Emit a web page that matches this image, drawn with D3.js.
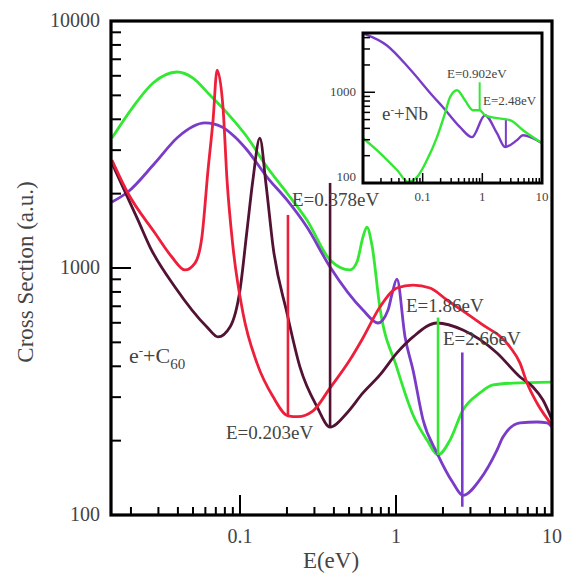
<!DOCTYPE html>
<html>
<head>
<meta charset="utf-8">
<script src="https://cdn.jsdelivr.net/npm/d3@7"></script>
<style>
  body { margin: 0; background: #fff; }
  text { font-family: "Liberation Serif", "DejaVu Serif", serif; fill: #444; }
</style>
</head>
<body>
<div id="chart"></div>
<script>
// ---- main panel data: e- + C60, [E (eV), cross section (a.u.)]
const greenC60 = [[0.0151,3357],[0.0206,4484],[0.0277,5610],[0.0395,6216],[0.05,5875],[0.0642,5012],
  [0.0826,4246],[0.111,3392],[0.149,2564],[0.2,2012],[0.2685,1563],[0.378,1077],[0.507,982],[0.562,1057],
  [0.614,1334],[0.651,1465],[0.701,1239],[0.789,689],[1.014,394],[1.286,254],[1.58,201],[1.86,175],
  [2.22,201],[2.687,266],[3.45,312],[4.19,336],[5.63,342],[10,345]];
const redC60 = [[0.0151,2735],[0.0191,2012],[0.0285,1386],[0.0366,1108],[0.0444,982],[0.0515,1047],
  [0.057,1335],[0.0624,2495],[0.0672,3972],[0.0713,6330],[0.0778,4484],[0.0826,2270],[0.0902,1216],
  [0.1045,658],[0.1285,412],[0.163,301],[0.203,252],[0.235,250],[0.294,264],[0.378,327],[0.507,425],
  [0.614,521],[0.789,695],[1.014,830],[1.286,853],[1.653,830],[2.12,742],[3.45,599],[5.38,479],
  [6.24,412],[6.92,342],[8.01,284],[10,231]];
const maroonC60 = [[0.0151,2660],[0.0222,1563],[0.0265,1216],[0.0383,838],[0.0614,577],[0.0723,526],
  [0.0863,577],[0.1,815],[0.111,1425],[0.121,2270],[0.134,3357],[0.147,2168],[0.163,1216],[0.2,658],
  [0.2425,397],[0.312,274],[0.378,227],[0.485,259],[0.614,312],[0.789,369],[1.014,453],[1.286,526],
  [1.833,599],[2.687,561],[4.44,453],[6.24,362],[7.55,330],[8.75,292],[10,243]];
const purpleC60 = [[0.0151,1849],[0.0191,2031],[0.0285,2660],[0.0401,3392],[0.0597,3865],[0.0767,3726],
  [0.0929,3392],[0.111,3004],[0.149,2335],[0.2,1885],[0.2685,1465],[0.378,1009],[0.614,676],[0.767,599],
  [0.889,676],[0.94,778],[1.014,902],[1.143,526],[1.286,386],[1.49,243],[1.833,178],[2.318,135],
  [2.687,120],[3.45,139],[4.44,183],[4.85,207],[6.24,236],[8.01,238],[9.29,236],[10,227]];

// resonance markers in main panel
const markE   = [0.203, 0.378, 1.86, 2.66];
const markTop = [1640, 2210, 630, 455];
const markBot = [252, 227, 175, 108];
const markLabels = ["E=0.203eV", "E=0.378eV", "E=1.86eV", "E=2.66eV"];

// ---- inset data: e- + Nb
const greenNb = [[0.01,312],[0.0193,214],[0.0372,139],[0.0568,103],[0.0803,116],[0.118,179],[0.174,320],
  [0.237,587],[0.287,881],[0.376,1052],[0.512,817],[0.697,634],[0.902,634],[1.108,558],[1.76,518],
  [2.91,492],[4.8,382],[10,275]];
const purpleNb = [[0.01,4450],[0.0252,3281],[0.0614,1791],[0.149,904],[0.219,684],[0.423,413],[0.671,320],
  [1.108,558],[1.76,354],[2.4,249],[3.81,297],[4.8,336],[10,275]];
const insetMarkE   = [0.902, 2.48];
const insetMarkTop = [1289, 492];
const insetMarkBot = [634, 249];
const insetLabels  = ["E=0.902eV", "E=2.48eV"];

const colGreen = "#33e833", colRed = "#ee1f3a", colPurple = "#7a3cc8", colMaroon = "#521234";

const W = 568, H = 574;
const svg = d3.select("#chart").append("svg").attr("width", W).attr("height", H);

// main scales
const x = d3.scaleLog().domain([0.0149, 10]).range([111, 552]);
const y = d3.scaleLog().domain([100, 10000]).range([515, 21]);

svg.append("clipPath").attr("id", "clipMain")
  .append("rect").attr("x", 111).attr("y", 21).attr("width", 441).attr("height", 494);

const line = d3.line().x(d => x(d[0])).y(d => y(d[1])).curve(d3.curveMonotoneX);
const gMain = svg.append("g").attr("clip-path", "url(#clipMain)");

[[greenC60, colGreen], [purpleC60, colPurple], [maroonC60, colMaroon], [redC60, colRed]].forEach(([d, c]) => {
  gMain.append("path").attr("d", line(d)).attr("fill", "none")
    .attr("stroke", c).attr("stroke-width", 2.8);
});

const markCols = [colRed, colMaroon, colGreen, colPurple];
gMain.selectAll("line.mark").data(markE).enter().append("line")
  .attr("x1", d => x(d)).attr("x2", d => x(d))
  .attr("y1", (d, i) => y(markTop[i])).attr("y2", (d, i) => y(markBot[i]))
  .attr("stroke", (d, i) => markCols[i]).attr("stroke-width", 2.6);

// ticks (inward)
const isMajor = v => Math.abs(Math.log10(v) - Math.round(Math.log10(v))) < 1e-6;
svg.append("g").selectAll("line").data(y.ticks()).enter().append("line")
  .attr("x1", 111).attr("x2", d => 111 + (isMajor(d) ? 20 : 10))
  .attr("y1", d => y(d)).attr("y2", d => y(d))
  .attr("stroke", "#000").attr("stroke-width", 2);
svg.append("g").selectAll("line").data(x.ticks()).enter().append("line")
  .attr("x1", d => x(d)).attr("x2", d => x(d))
  .attr("y1", 515).attr("y2", d => 515 - (isMajor(d) ? 20 : 8))
  .attr("stroke", "#000").attr("stroke-width", 2);

svg.append("rect").attr("x", 111).attr("y", 21).attr("width", 441).attr("height", 494)
  .attr("fill", "none").attr("stroke", "#000").attr("stroke-width", 3.2);

// tick labels
svg.append("g").selectAll("text").data([100, 1000, 10000]).enter().append("text")
  .attr("x", 100).attr("y", d => y(d) + 6).attr("text-anchor", "end")
  .attr("font-size", 20).text(d => d);
svg.append("g").selectAll("text").data([0.1, 1, 10]).enter().append("text")
  .attr("x", d => x(d)).attr("y", 543).attr("text-anchor", "middle")
  .attr("font-size", 20).text(d => d);

// axis titles
svg.append("text").attr("x", 331).attr("y", 568).attr("text-anchor", "middle")
  .attr("font-size", 23).text("E(eV)");
svg.append("text").attr("transform", "translate(33,272) rotate(-90)").attr("text-anchor", "middle")
  .attr("font-size", 23).text("Cross Section (a.u.)");

// annotations
const labPos = [[226, 439], [292, 206], [406, 312], [443, 345]];
svg.append("g").selectAll("text").data(markLabels).enter().append("text")
  .attr("x", (d, i) => labPos[i][0]).attr("y", (d, i) => labPos[i][1])
  .attr("font-size", 19).text(d => d);

const cLab = svg.append("text").attr("x", 129).attr("y", 363).attr("font-size", 22);
cLab.append("tspan").text("e");
cLab.append("tspan").attr("dy", -8).attr("font-size", 13).text("-");
cLab.append("tspan").attr("dy", 8).text("+C");
cLab.append("tspan").attr("dy", 6).attr("font-size", 15).text("60");

// ---- inset
const xi = d3.scaleLog().domain([0.01, 10]).range([363, 542]);
const yi = d3.scaleLog().domain([100, 4500]).range([183, 33]);

svg.append("rect").attr("x", 363).attr("y", 33).attr("width", 179).attr("height", 150).attr("fill", "#fff");
svg.append("clipPath").attr("id", "clipInset")
  .append("rect").attr("x", 363).attr("y", 33).attr("width", 179).attr("height", 150);
const lineI = d3.line().x(d => xi(d[0])).y(d => yi(d[1])).curve(d3.curveMonotoneX);
const gIn = svg.append("g").attr("clip-path", "url(#clipInset)");
[[purpleNb, colPurple], [greenNb, colGreen]].forEach(([d, c]) => {
  gIn.append("path").attr("d", lineI(d)).attr("fill", "none")
    .attr("stroke", c).attr("stroke-width", 2.4);
});
const insetCols = [colGreen, colPurple];
gIn.selectAll("line.mark").data(insetMarkE).enter().append("line")
  .attr("x1", d => xi(d)).attr("x2", d => xi(d))
  .attr("y1", (d, i) => yi(insetMarkTop[i])).attr("y2", (d, i) => yi(insetMarkBot[i]))
  .attr("stroke", (d, i) => insetCols[i]).attr("stroke-width", 2);

svg.append("g").selectAll("line").data(yi.ticks()).enter().append("line")
  .attr("x1", 363).attr("x2", d => 363 + (isMajor(d) ? 12 : 7))
  .attr("y1", d => yi(d)).attr("y2", d => yi(d))
  .attr("stroke", "#000").attr("stroke-width", 1.5);
svg.append("g").selectAll("line").data(xi.ticks()).enter().append("line")
  .attr("x1", d => xi(d)).attr("x2", d => xi(d))
  .attr("y1", 183).attr("y2", d => 183 - (isMajor(d) ? 10 : 5))
  .attr("stroke", "#000").attr("stroke-width", 1.5);
svg.append("rect").attr("x", 363).attr("y", 33).attr("width", 179).attr("height", 150)
  .attr("fill", "none").attr("stroke", "#000").attr("stroke-width", 3);

svg.append("g").selectAll("text").data([100, 1000]).enter().append("text")
  .attr("x", 356).attr("y", d => d === 100 ? 181 : yi(d) + 4).attr("text-anchor", "end")
  .attr("font-size", 13).text(d => d);
svg.append("g").selectAll("text").data([0.1, 1, 10]).enter().append("text")
  .attr("x", d => xi(d)).attr("y", 201).attr("text-anchor", "middle")
  .attr("font-size", 13).text(d => d);

const insetLabPos = [[447, 78], [483, 105]];
svg.append("g").selectAll("text").data(insetLabels).enter().append("text")
  .attr("x", (d, i) => insetLabPos[i][0]).attr("y", (d, i) => insetLabPos[i][1])
  .attr("font-size", 13).text(d => d);

const nbLab = svg.append("text").attr("x", 382).attr("y", 120).attr("font-size", 19);
nbLab.append("tspan").text("e");
nbLab.append("tspan").attr("dy", -7).attr("font-size", 11).text("-");
nbLab.append("tspan").attr("dy", 7).text("+Nb");
</script>
</body>
</html>
